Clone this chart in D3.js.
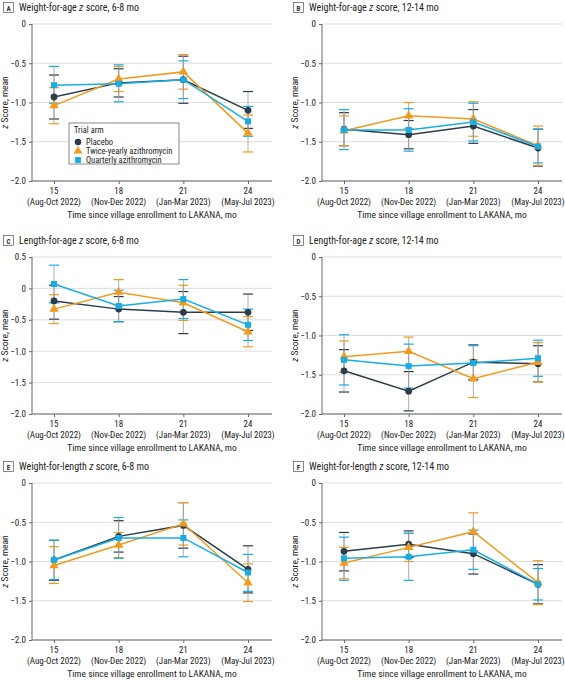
<!DOCTYPE html><html><head><meta charset="utf-8">
<script src="https://cdn.jsdelivr.net/npm/d3@7"></script>
<style>body{margin:0;background:#fff}text{font-family:"Liberation Sans Narrow","Roboto Condensed","Liberation Sans",sans-serif}</style></head><body>
<svg id="c" width="565" height="680"></svg>
<script>
const months=[15,18,21,24];
const periods=["(Aug-Oct 2022)","(Nov-Dec 2022)","(Jan-Mar 2023)","(May-Jul 2023)"];
const arms=["Placebo","Twice-yearly azithromycin","Quarterly azithromycin"];
const colors=["#2b3d4b","#f39a1e","#17aee6"];
const panelLetters=["A","B","C","D","E","F"];
const panelTitles=[["Weight-for-age ","z"," score, 6-8 mo"],["Weight-for-age ","z"," score, 12-14 mo"],["Length-for-age ","z"," score, 6-8 mo"],["Length-for-age ","z"," score, 12-14 mo"],["Weight-for-length ","z"," score, 6-8 mo"],["Weight-for-length ","z"," score, 12-14 mo"]];
const yTicksA=[0,-0.5,-1,-1.5,-2];
const yTicksC=[0.5,0,-0.5,-1,-1.5,-2];
// [mean, low, high] per arm per month
const dataA=[[[-0.93,-1.21,-0.65],[-0.75,-0.93,-0.57],[-0.71,-1.01,-0.41],[-1.10,-1.33,-0.86]],
[[-1.04,-1.27,-0.81],[-0.70,-0.86,-0.54],[-0.61,-0.83,-0.39],[-1.39,-1.63,-1.16]],
[[-0.78,-1.01,-0.54],[-0.76,-0.99,-0.52],[-0.71,-0.95,-0.47],[-1.24,-1.43,-1.05]]];
const dataB=[[[-1.34,-1.55,-1.13],[-1.41,-1.59,-1.23],[-1.30,-1.52,-1.09],[-1.58,-1.81,-1.34]],
[[-1.36,-1.55,-1.17],[-1.17,-1.33,-1.00],[-1.21,-1.43,-0.99],[-1.55,-1.80,-1.30]],
[[-1.35,-1.60,-1.09],[-1.35,-1.62,-1.08],[-1.25,-1.49,-1.01],[-1.56,-1.77,-1.34]]];
const dataC=[[[-0.20,-0.49,0.05],[-0.33,-0.53,-0.13],[-0.38,-0.72,-0.05],[-0.38,-0.67,-0.09]],
[[-0.33,-0.56,-0.10],[-0.06,-0.26,0.14],[-0.23,-0.51,0.05],[-0.69,-0.93,-0.45]],
[[0.07,-0.23,0.37],[-0.28,-0.53,-0.03],[-0.17,-0.48,0.14],[-0.58,-0.83,-0.33]]];
const dataD=[[[-1.45,-1.72,-1.18],[-1.71,-1.96,-1.46],[-1.34,-1.56,-1.12],[-1.36,-1.59,-1.13]],
[[-1.27,-1.47,-1.07],[-1.20,-1.38,-1.02],[-1.55,-1.79,-1.31],[-1.34,-1.59,-1.09]],
[[-1.31,-1.63,-0.99],[-1.39,-1.67,-1.11],[-1.35,-1.57,-1.13],[-1.29,-1.52,-1.06]]];
const dataE=[[[-0.98,-1.24,-0.73],[-0.68,-0.88,-0.48],[-0.54,-0.83,-0.25],[-1.10,-1.40,-0.80]],
[[-1.05,-1.28,-0.81],[-0.79,-0.95,-0.63],[-0.52,-0.79,-0.25],[-1.27,-1.51,-1.03]],
[[-0.98,-1.23,-0.73],[-0.70,-0.96,-0.44],[-0.70,-0.94,-0.47],[-1.14,-1.38,-0.91]]];
const dataF=[[[-0.87,-1.12,-0.63],[-0.78,-0.95,-0.61],[-0.90,-1.16,-0.65],[-1.29,-1.54,-1.04]],
[[-1.02,-1.22,-0.82],[-0.82,-1.00,-0.64],[-0.62,-0.86,-0.38],[-1.27,-1.55,-0.99]],
[[-0.96,-1.24,-0.69],[-0.94,-1.24,-0.64],[-0.85,-1.10,-0.60],[-1.29,-1.49,-1.09]]];
const panels=[dataA,dataB,dataC,dataD,dataE,dataF];

const svg=d3.select("#c");
const colX=[32,322], rowY=[24,257,483], W=240, H=157;
panels.forEach((data,pi)=>{
  const col=pi%2,row=Math.floor(pi/2);
  const ox=colX[col], oy=rowY[row];
  const g=svg.append("g").attr("transform",`translate(${ox},${oy})`);
  const ticks=row===1&&col===0?yTicksC:yTicksA;
  const y=d3.scaleLinear().domain([ticks[0],-2]).range([0,H]);
  const x=d3.scaleLinear().domain([15,24]).range([22,216]);
  const t=svg.append("g").attr("transform",`translate(${ox-29},${oy-17})`);
  t.append("rect").attr("x",0.5).attr("y",-4.5).attr("width",10).attr("height",10).attr("fill","#fff").attr("stroke","#555").attr("stroke-width",0.7);
  t.append("text").attr("x",5.5).attr("y",3.5).attr("text-anchor","middle").attr("font-size",7).attr("font-weight","bold").attr("fill","#333").text(panelLetters[pi]);
  const tt=t.append("text").attr("x",16).attr("y",4).attr("font-size",10).attr("fill","#222");
  tt.append("tspan").text(panelTitles[pi][0]);
  tt.append("tspan").attr("font-style","italic").text(panelTitles[pi][1]);
  tt.append("tspan").text(panelTitles[pi][2]);
  g.selectAll(".gr").data(ticks).join("line").attr("x1",0).attr("x2",W).attr("y1",d=>y(d)).attr("y2",d=>y(d)).attr("stroke","#d4d4d4").attr("stroke-width",0.8);
  g.append("line").attr("x1",0).attr("x2",0).attr("y1",0).attr("y2",H).attr("stroke","#666");
  const ya=g.append("g").call(d3.axisLeft(y).tickValues(ticks).tickSize(3).tickFormat(d=>d===0?"0":d3.format(".1f")(d)));
  ya.select(".domain").remove();
  ya.selectAll("text").attr("font-size",9).attr("fill","#222");ya.selectAll("line").attr("stroke","#666");
  const xa=g.append("g").attr("transform",`translate(0,${H})`).call(d3.axisBottom(x).tickValues(months).tickSize(3).tickFormat(""));
  xa.select(".domain").attr("d",`M0,0H${W}`).attr("stroke","#666");xa.selectAll("line").attr("stroke","#666");
  months.forEach((m,i)=>{
    g.append("text").attr("x",x(m)).attr("y",H+13).attr("text-anchor","middle").attr("font-size",9).attr("fill","#222").text(m);
    g.append("text").attr("x",x(m)).attr("y",H+24).attr("text-anchor","middle").attr("font-size",9).attr("fill","#222").text(periods[i]);
  });
  g.append("text").attr("x",W/2).attr("y",H+37).attr("text-anchor","middle").attr("font-size",9.5).attr("fill","#222").text("Time since village enrollment to LAKANA, mo");
  const yl=g.append("text").attr("transform",`translate(-24,${H/2}) rotate(-90)`).attr("text-anchor","middle").attr("font-size",9.5).attr("fill","#222");
  yl.append("tspan").attr("font-style","italic").text("z");yl.append("tspan").text(" Score, mean");
  data.forEach((s,ai)=>{
    s.forEach((d,i)=>{
      const cx=x(months[i]);
      g.append("line").attr("x1",cx).attr("x2",cx).attr("y1",y(d[1])).attr("y2",y(d[2])).attr("stroke","#999").attr("stroke-width",0.8);
      [d[1],d[2]].forEach(v=>g.append("line").attr("x1",cx-5).attr("x2",cx+5).attr("y1",y(v)).attr("y2",y(v)).attr("stroke",colors[ai]).attr("stroke-width",1.2));
    });
  });
  const line=d3.line().x((d,i)=>x(months[i])).y(d=>y(d[0]));
  data.forEach((s,ai)=>g.append("path").attr("d",line(s)).attr("fill","none").attr("stroke",colors[ai]).attr("stroke-width",1.5));
  const shapes=[d3.symbolCircle,d3.symbolTriangle,d3.symbolSquare];
  data.forEach((s,ai)=>s.forEach((d,i)=>g.append("path").attr("d",d3.symbol(shapes[ai],ai===1?38:36)()).attr("transform",`translate(${x(months[i])},${y(d[0])})`).attr("fill",colors[ai])));
  if(pi===0){
    const lg=g.append("g").attr("transform","translate(37,99)");
    lg.append("rect").attr("width",110).attr("height",41).attr("fill","#fff").attr("stroke","#555").attr("stroke-width",0.7);
    lg.append("text").attr("x",5).attr("y",10).attr("font-size",8.5).attr("fill","#222").text("Trial arm");
    arms.forEach((a,i)=>{
      lg.append("path").attr("d",d3.symbol(shapes[i],34)()).attr("transform",`translate(9,${19+i*9})`).attr("fill",colors[i]);
      lg.append("text").attr("x",17).attr("y",22+i*9).attr("font-size",8.5).attr("fill","#222").text(a);
    });
  }
});
</script></body></html>
